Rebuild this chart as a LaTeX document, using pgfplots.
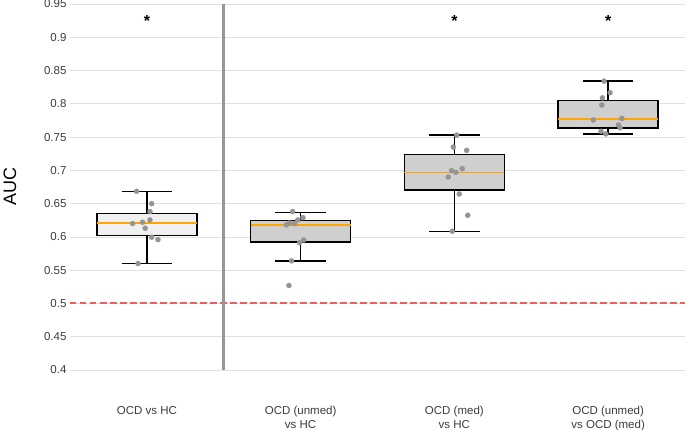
\documentclass[border=0pt]{standalone}
\usepackage{fontspec}
\setmainfont{Liberation Sans}
\usepackage{pgfplots}
\pgfplotsset{compat=1.18}
\usepgfplotslibrary{statistics}
\definecolor{gridgray}{RGB}{224,224,224}
\definecolor{ticktext}{RGB}{60,60,60}
\definecolor{boxlight}{RGB}{240,240,240}
\definecolor{boxgray}{RGB}{207,207,207}
\definecolor{medorange}{RGB}{255,165,0}
\definecolor{dotgray}{RGB}{148,148,148}
\definecolor{chancered}{RGB}{238,95,95}
\definecolor{divgray}{RGB}{150,150,150}
\begin{document}
\begin{tikzpicture}
\begin{axis}[
  set layers,
  scale only axis, width=615pt, height=366pt,
  xmin=-0.5, xmax=3.5, ymin=0.4, ymax=0.95,
  axis line style={draw=none},
  tick style={draw=none},
  ytick={0.4,0.45,0.5,0.55,0.6,0.65,0.7,0.75,0.8,0.85,0.9,0.95},
  ymajorgrids,
  grid style={gridgray, line width=0.8pt},
  xtick={0,1,2,3},
  xticklabels={OCD vs HC, {OCD (unmed)\\vs HC}, {OCD (med)\\vs HC}, {OCD (unmed)\\vs OCD (med)}},
  xticklabel style={align=center, font=\fontsize{11.5}{14}\selectfont, text=ticktext, anchor=north, yshift=-33pt},
  yticklabel style={font=\fontsize{11.5}{14}\selectfont, text=ticktext},
  /pgf/number format/assume math mode=true,
  yticklabel={\pgfmathprintnumber[fixed,precision=2]{\tick}},
  ylabel={AUC},
  ylabel style={font=\fontsize{18}{20}\selectfont, text=black, at={(axis description cs:-0.0976,0.5)}, anchor=center},
  boxplot/draw direction=y,
  boxplot/box extend=0.65,
  boxplot/whisker extend=0.33,
  boxplot/every median/.style={draw=medorange, line width=1.7pt},
  clip=false,
]
% chance level
\addplot[draw=chancered, line width=2pt, dash pattern=on 6.5pt off 3.5pt, forget plot] table {
x y
-0.5 0.5
3.5 0.5
};
% divider between the pooled and the subgroup comparisons
\addplot[draw=divgray, line width=2.6pt, forget plot] table {
x y
0.5 0.4
0.5 0.95
};

\addplot[draw=black, line width=1.5pt, fill=boxlight, boxplot prepared={
  lower whisker=0.560, lower quartile=0.6024, median=0.621,
  upper quartile=0.635, upper whisker=0.6685, draw position=0}] coordinates {};
\addplot[draw=black, line width=1.5pt, fill=boxgray, boxplot prepared={
  lower whisker=0.564, lower quartile=0.5924, median=0.618,
  upper quartile=0.625, upper whisker=0.637, draw position=1}] coordinates {};
\addplot[draw=black, line width=1.5pt, fill=boxgray, boxplot prepared={
  lower whisker=0.608, lower quartile=0.6705, median=0.697,
  upper quartile=0.7236, upper whisker=0.753, draw position=2}] coordinates {};
\addplot[draw=black, line width=1.5pt, fill=boxgray, boxplot prepared={
  lower whisker=0.7547, lower quartile=0.7637, median=0.7767,
  upper quartile=0.8047, upper whisker=0.834, draw position=3}] coordinates {};

% fold-wise AUCs (jittered)
\addplot[only marks, mark=*, mark size=2.6pt, color=dotgray, mark options={draw=dotgray, fill=dotgray, line width=0.2pt}] coordinates {
  (-0.067,0.6685) (0.031,0.650) (0.020,0.638) (0.020,0.6255) (-0.093,0.620)
  (-0.028,0.622) (-0.011,0.613) (0.031,0.5995) (0.072,0.596) (-0.057,0.560)
  (0.948,0.638) (1.015,0.629) (0.982,0.6255) (0.961,0.620) (0.907,0.618)
  (1.020,0.5954) (0.993,0.5913) (0.941,0.564) (0.924,0.527) (0.928,0.621)
  (2.015,0.753) (1.993,0.735) (2.080,0.730) (2.051,0.7025) (1.982,0.6995)
  (2.010,0.697) (1.960,0.690) (2.032,0.6645) (2.087,0.6325) (1.986,0.6085)
  (2.974,0.834) (3.013,0.8167) (2.963,0.809) (2.959,0.7982) (2.904,0.7757)
  (3.089,0.778) (3.067,0.7682) (3.078,0.764) (2.954,0.7587) (2.985,0.7547)
};

\node[font=\fontsize{16}{18}\selectfont\bfseries] at (axis cs:0,0.925) {*};
\node[font=\fontsize{16}{18}\selectfont\bfseries] at (axis cs:2,0.925) {*};
\node[font=\fontsize{16}{18}\selectfont\bfseries] at (axis cs:3,0.925) {*};
\end{axis}
\pgfresetboundingbox
\path[use as bounding box] (-70pt,-60pt) rectangle (615pt,370pt);
\end{tikzpicture}
\end{document}
